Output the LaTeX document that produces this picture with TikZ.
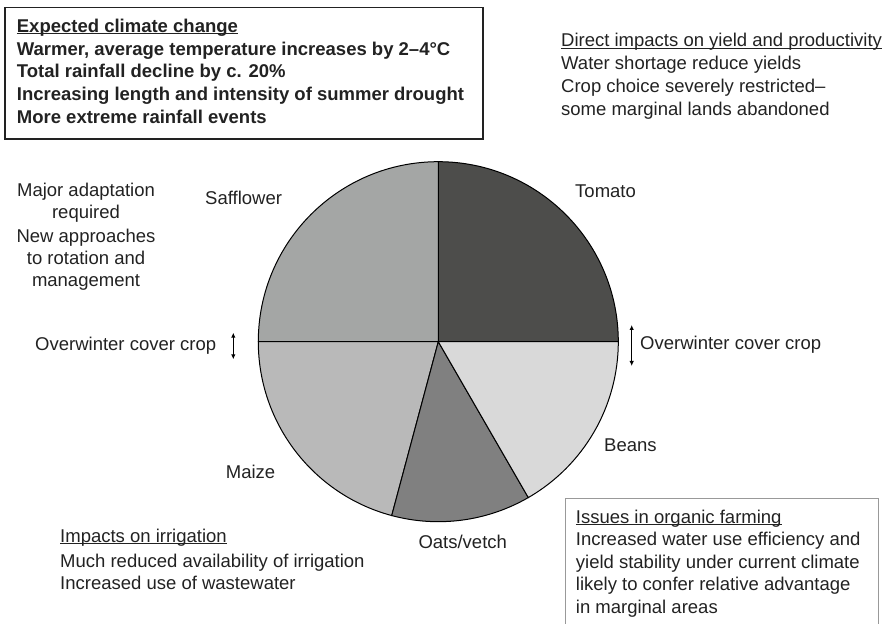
\documentclass[tikz,border=0pt]{standalone}
\usepackage{fontspec}
\setmainfont{Liberation Sans}
\usetikzlibrary{arrows.meta}

\definecolor{inkgray}{HTML}{222222}
\definecolor{tomatofill}{HTML}{4D4D4B}
\definecolor{safflowerfill}{HTML}{A4A6A5}
\definecolor{maizefill}{HTML}{B9B9B9}
\definecolor{oatsfill}{HTML}{808080}
\definecolor{beansfill}{HTML}{D9D9D9}

% underline that runs through the descenders
\newcommand{\undl}[1]{\setbox0\hbox{#1}\rlap{\rule[-1.8pt]{\wd0}{0.9pt}}\box0}

\tikzset{
  txt/.style={font=\fontsize{18.5}{22.7}\selectfont, text=inkgray, inner sep=0pt, anchor=base west, align=left},
  boldtxt/.style={txt, font=\fontsize{18.5}{22.75}\selectfont\bfseries},
  wedge/.style={draw=black, line width=1pt},
  updown/.style={line width=1.1pt, {Latex[length=5pt,width=4.5pt]}-{Latex[length=5pt,width=4.5pt]}}
}

\begin{document}
\begin{tikzpicture}[x=1pt, y=1pt]
\useasboundingbox (0,0) rectangle (887,624);
\pgfmathsetmacro{\R}{180}

% Pie of the rotation
\coordinate (pc) at (438.3,282.3);
\foreach \a/\b/\c in {0/90/tomatofill, 90/180/safflowerfill, 180/255/maizefill, 255/300/oatsfill, 300/360/beansfill}{
  \filldraw[wedge, fill=\c] (pc) -- ++(\a:\R) arc[start angle=\a, end angle=\b, radius=\R] -- cycle;
}

% Crop labels
\node[txt] (safflower) at (205,419) {Safflower};
\node[txt] (tomato) at (575,426.3) {Tomato};
\node[txt] (beans) at (604,172.3) {Beans};
\node[txt] (maize) at (225.7,145.7) {Maize};
\node[txt] (oats) at (418.3,75.7) {Oats/vetch};

% Cover crop between the seasons
\node[txt] (coverL) at (35,273.3) {Overwinter cover crop};
\coordinate (coverL top) at (233.3,291.3);
\coordinate (coverL bot) at (233.3,264.7);
\draw[updown] (coverL top) -- (coverL bot);
\node[txt] (coverR) at (640,274.7) {Overwinter cover crop};
\coordinate (coverR top) at (631.7,299);
\coordinate (coverR bot) at (631.7,258);
\draw[updown] (coverR top) -- (coverR bot);

% Expected climate change (framed); base = last line
\draw[line width=1.2pt, draw=inkgray] (5,616.7) rectangle (483,485);
\node[boldtxt] (climate) at (16.7,500.7) {\undl{Expected climate change}\\
  Warmer, average temperature increases by 2--4°C\\
  Total rainfall decline by c. 20\%\\
  Increasing length and intensity of summer drought\\
  More extreme rainfall events};

% Impacts
\node[txt, font=\fontsize{18.5}{22.8}\selectfont] (direct) at (561,508.9) {\undl{Direct impacts on yield and productivity}\\
  Water shortage reduce yields\\
  Crop choice severely restricted--\\
  some marginal lands abandoned};
\node[txt, anchor=base, align=center, font=\fontsize{18.5}{22}\selectfont] (adapt) at (86,337.3) {Major adaptation\\ required\\[2.4pt]
  New approaches\\ to rotation and\\ management};
\node[txt] (irrig) at (60,34) {\undl{Impacts on irrigation}\\[2.3pt]
  Much reduced availability of irrigation\\
  Increased use of wastewater};

% Issues in organic farming (frame runs off the bottom)
\draw[line width=1pt, draw=gray!80] (565.7,0) -- (565.7,125) -- (878.3,125) -- (878.3,0);
\node[txt, font=\fontsize{18.5}{22.5}\selectfont] (organic) at (575.7,10.7) {\undl{Issues in organic farming}\\
  Increased water use efficiency and\\
  yield stability under current climate\\
  likely to confer relative advantage\\
  in marginal areas};
\end{tikzpicture}
\end{document}
